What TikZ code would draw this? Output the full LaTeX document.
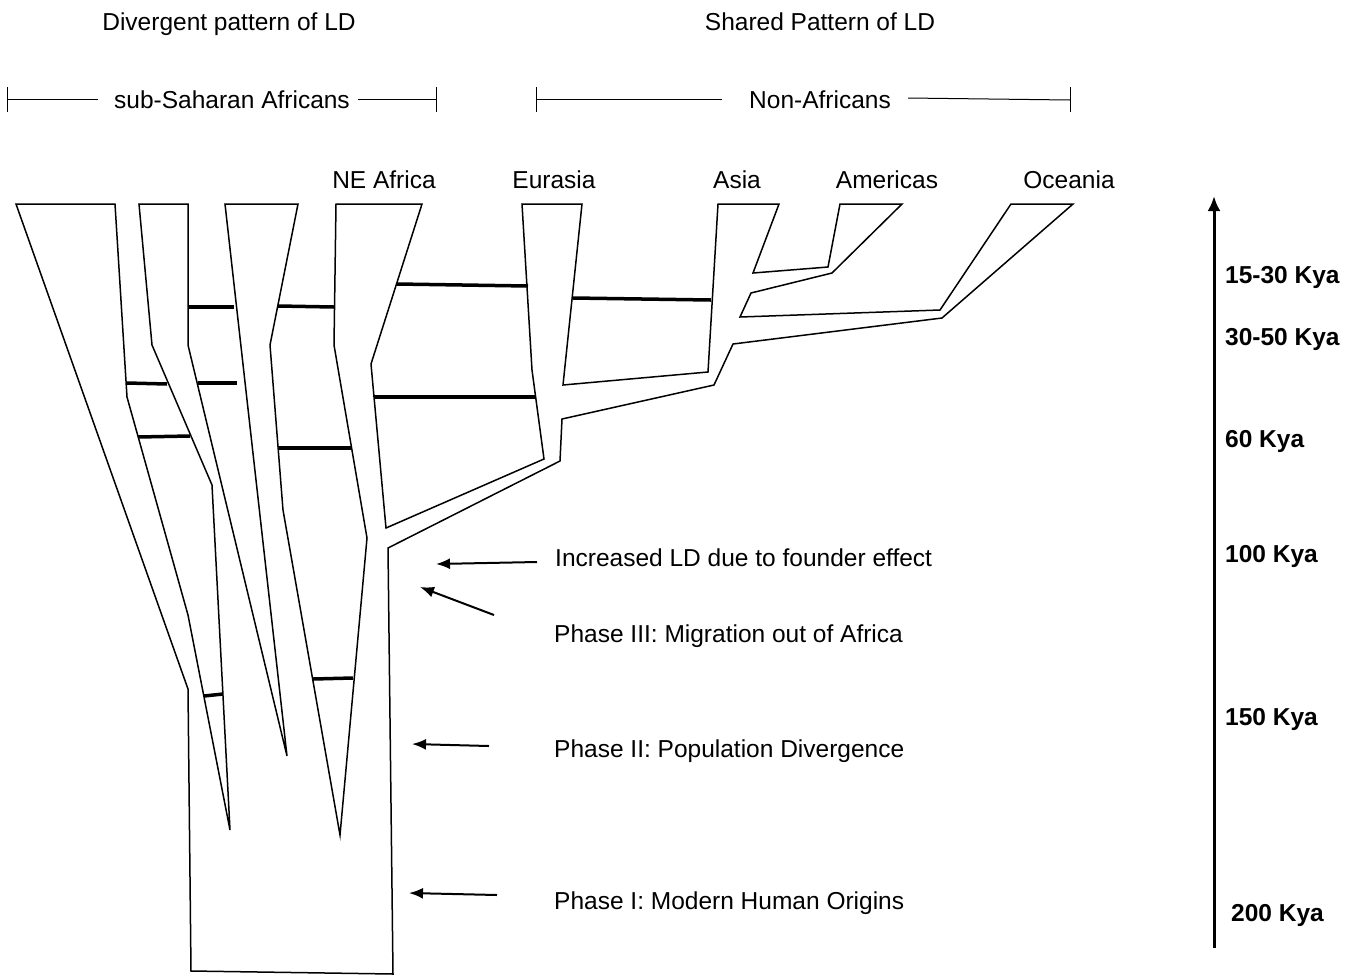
\documentclass[tikz,border=0pt]{standalone}
\usepackage{fontspec}
\setmainfont{Liberation Sans}
\usetikzlibrary{arrows.meta}

\begin{document}
\begin{tikzpicture}[x=1pt,y=-1pt,
		lbl/.style={anchor=base,inner sep=0pt,font=\fontsize{24.5}{29}\selectfont},
		kya/.style={anchor=base west,inner sep=0pt,font=\fontsize{24.5}{29}\selectfont\bfseries},
		branch/.style={line width=1.5pt,line join=miter},
		ld/.style={line width=3.5pt},
		ptr/.style={line width=2pt,-{Latex[length=14pt,width=11pt]}},
		brk/.style={line width=1pt}]
	\useasboundingbox (0,0) rectangle (1355,978);

	% headings
	\node[lbl] (divg) at (229,30) {Divergent pattern of LD};
	\node[lbl] (shrd) at (820,30) {Shared Pattern of LD};

	% brackets: sub-Saharan Africans / Non-Africans
	\node[lbl] (ssa) at (232,108) {sub-Saharan Africans};
	\coordinate (ssaL) at (7,99);
	\coordinate (ssaR) at (436,99);
	\draw[brk] (7,87) -- (7,112);
	\draw[brk] (436,87) -- (436,112);
	\draw[brk] (ssaL) -- (98,99);
	\draw[brk] (358,99) -- (ssaR);

	\node[lbl] (nonaf) at (820,108) {Non-Africans};
	\coordinate (nonafL) at (536,99);
	\coordinate (nonafR) at (1070,100);
	\draw[brk] (536,87) -- (536,112);
	\draw[brk] (1070,87) -- (1070,112);
	\draw[brk] (nonafL) -- (722,99);
	\draw[brk] (908,98) -- (nonafR);

	% population names
	\node[lbl] (neaf) at (384,188) {NE Africa};
	\node[lbl] (eura) at (554,188) {Eurasia};
	\node[lbl] (asia) at (737,188) {Asia};
	\node[lbl] (amer) at (887,188) {Americas};
	\node[lbl] (ocea) at (1069,188) {Oceania};

	% the tree, drawn as one outline
	\draw[branch] (16,204) -- (115,204) -- (127,397) -- (188,615) -- (230,830)
		-- (212,485) -- (152,345) -- (139,204) -- (188,204) -- (188,345)
		-- (287,756) -- (225,204) -- (298,204) -- (270,345) -- (283,510)
		-- (340,835) -- (367,538) -- (334,345) -- (336,204) -- (422,204)
		-- (371,364) -- (386,528) -- (544,459) -- (532,370) -- (522,204)
		-- (582,204) -- (563,385) -- (708,372) -- (718,204) -- (779,204)
		-- (753,273) -- (828,267) -- (840,204) -- (902,204) -- (832,273)
		-- (751,293) -- (740,317) -- (940,310) -- (1011,204) -- (1073,204)
		-- (942,318) -- (733,344) -- (714,385) -- (562,419) -- (560,461)
		-- (388,548) -- (393,974) -- (191,971) -- (188,689) -- cycle;

	% gene flow (LD) bars
	\draw[ld] (188,307) -- (234,307);
	\draw[ld] (278,306) -- (334,307);
	\draw[ld] (397,284) -- (528,286);
	\draw[ld] (127,383) -- (167,384);
	\draw[ld] (198,383) -- (237,383);
	\draw[ld] (138,437) -- (190,436);
	\draw[ld] (278,448) -- (351,448);
	\draw[ld] (374,397) -- (535,397);
	\draw[ld] (573,298) -- (711,300);
	\draw[ld] (204,696) -- (223,694);
	\draw[ld] (313,679) -- (353,678);

	% phases
	\node[lbl,anchor=base west] (foundr) at (555,566) {Increased LD due to founder effect};
	\node[lbl,anchor=base west] (ph3) at (554,642) {Phase III: Migration out of Africa};
	\node[lbl,anchor=base west] (ph2) at (554,757) {Phase II: Population Divergence};
	\node[lbl,anchor=base west] (ph1) at (554,909) {Phase I: Modern Human Origins};

	\coordinate (foundrT) at (537,562);
	\coordinate (foundrH) at (436,564);
	\coordinate (ph3T) at (494,615);
	\coordinate (ph3H) at (420,587);
	\coordinate (ph2T) at (489,746);
	\coordinate (ph2H) at (412,744);
	\coordinate (ph1T) at (497,895);
	\coordinate (ph1H) at (409,893);
	\draw[ptr] (foundrT) -- (foundrH);
	\draw[ptr] (ph3T) -- (ph3H);
	\draw[ptr] (ph2T) -- (ph2H);
	\draw[ptr] (ph1T) -- (ph1H);

	% time axis
	\coordinate (tbot) at (1214,948);
	\coordinate (ttop) at (1214,196);
	\draw[line width=3pt,-{Latex[length=15pt,width=13pt]}] (tbot) -- (ttop);
	\node[kya] (t15) at (1225,283) {15-30 Kya};
	\node[kya] (t30) at (1225,345) {30-50 Kya};
	\node[kya] (t60) at (1225,447) {60 Kya};
	\node[kya] (t100) at (1225,562) {100 Kya};
	\node[kya] (t150) at (1225,725) {150 Kya};
	\node[kya] (t200) at (1231,921) {200 Kya};
\end{tikzpicture}
\end{document}
